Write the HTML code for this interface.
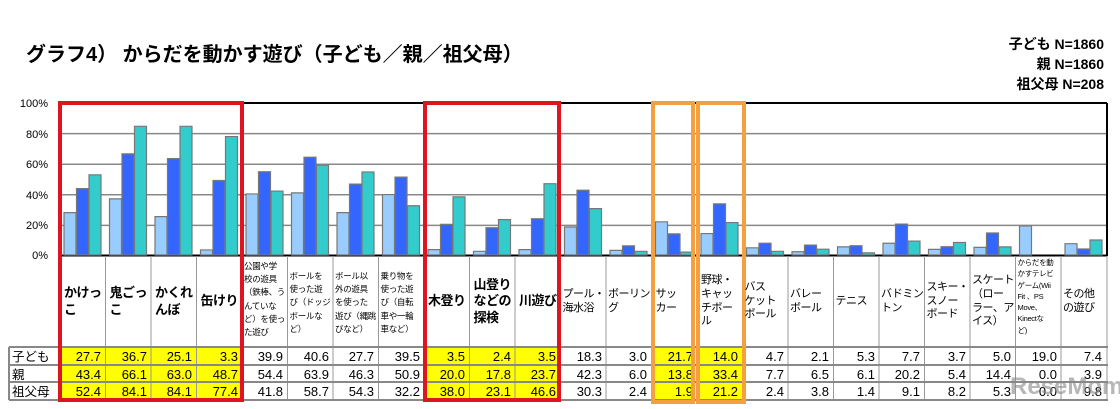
<!DOCTYPE html>
<html><head><meta charset="utf-8"><style>
body{margin:0;width:1120px;height:409px;background:#fff;overflow:hidden;position:relative;font-family:"Liberation Sans","Noto Sans CJK JP",sans-serif;}
.t{position:absolute;left:26px;top:38px;font-size:20px;font-weight:bold;color:#000;}
.lg{position:absolute;right:16px;top:34px;font-size:14px;font-weight:bold;text-align:right;line-height:20px;}
.c{position:absolute;top:256px;height:91px;width:45px;display:flex;align-items:center;padding-left:2px;box-sizing:border-box;line-height:1.25;color:#000;white-space:nowrap;overflow:visible;}
.b{font-size:13px;font-weight:bold;letter-spacing:-0.5px;}
.m{font-size:11px;letter-spacing:-0.5px;}
.s{font-size:8.5px;line-height:1.55;align-items:flex-start;padding-top:4px;letter-spacing:-0.3px;}
.xs{font-size:7.5px;line-height:1.5;align-items:flex-start;padding-top:1px;letter-spacing:-0.3px;}
</style></head><body>
<div class="t">グラフ4） からだを動かす遊び（子ども／親／祖父母）</div>
<div class="lg">子ども N=1860<br>親 N=1860<br>祖父母 N=208</div>
<svg width="1120" height="409" style="position:absolute;left:0;top:0">
<g font-size="11" fill="#000" text-anchor="end" font-family="Liberation Sans,sans-serif">
<text x="48" y="107">100%</text><text x="48" y="138">80%</text><text x="48" y="168">60%</text><text x="48" y="199">40%</text><text x="48" y="229">20%</text><text x="48" y="259">0%</text></g>
<g stroke="#888" stroke-width="1.5">
<line x1="60" y1="133.6" x2="1107" y2="133.6"/><line x1="60" y1="164.2" x2="1107" y2="164.2"/><line x1="60" y1="194.8" x2="1107" y2="194.8"/><line x1="60" y1="225.4" x2="1107" y2="225.4"/></g>
<line x1="60" y1="103" x2="1107" y2="103" stroke="#000" stroke-width="2"/>
<line x1="1107" y1="103" x2="1107" y2="256" stroke="#000" stroke-width="2"/>
<line x1="60" y1="255.5" x2="1107" y2="255.5" stroke="#000" stroke-width="2"/>
<g id="bars" stroke="#777" stroke-width="1.2">
<g transform="translate(60,255) scale(1,-1.53)"><rect x="4" width="12" height="27.7" fill="#99ccff" vector-effect="non-scaling-stroke"/><rect x="16.5" width="12" height="43.4" fill="#3366ff" vector-effect="non-scaling-stroke"/><rect x="29" width="12" height="52.4" fill="#33cccc" vector-effect="non-scaling-stroke"/></g>
<g transform="translate(105.5,255) scale(1,-1.53)"><rect x="4" width="12" height="36.7" fill="#99ccff" vector-effect="non-scaling-stroke"/><rect x="16.5" width="12" height="66.1" fill="#3366ff" vector-effect="non-scaling-stroke"/><rect x="29" width="12" height="84.1" fill="#33cccc" vector-effect="non-scaling-stroke"/></g>
<g transform="translate(151,255) scale(1,-1.53)"><rect x="4" width="12" height="25.1" fill="#99ccff" vector-effect="non-scaling-stroke"/><rect x="16.5" width="12" height="63.0" fill="#3366ff" vector-effect="non-scaling-stroke"/><rect x="29" width="12" height="84.1" fill="#33cccc" vector-effect="non-scaling-stroke"/></g>
<g transform="translate(196.5,255) scale(1,-1.53)"><rect x="4" width="12" height="3.3" fill="#99ccff" vector-effect="non-scaling-stroke"/><rect x="16.5" width="12" height="48.7" fill="#3366ff" vector-effect="non-scaling-stroke"/><rect x="29" width="12" height="77.4" fill="#33cccc" vector-effect="non-scaling-stroke"/></g>
<g transform="translate(242,255) scale(1,-1.53)"><rect x="4" width="12" height="39.9" fill="#99ccff" vector-effect="non-scaling-stroke"/><rect x="16.5" width="12" height="54.4" fill="#3366ff" vector-effect="non-scaling-stroke"/><rect x="29" width="12" height="41.8" fill="#33cccc" vector-effect="non-scaling-stroke"/></g>
<g transform="translate(287.5,255) scale(1,-1.53)"><rect x="4" width="12" height="40.6" fill="#99ccff" vector-effect="non-scaling-stroke"/><rect x="16.5" width="12" height="63.9" fill="#3366ff" vector-effect="non-scaling-stroke"/><rect x="29" width="12" height="58.7" fill="#33cccc" vector-effect="non-scaling-stroke"/></g>
<g transform="translate(333,255) scale(1,-1.53)"><rect x="4" width="12" height="27.7" fill="#99ccff" vector-effect="non-scaling-stroke"/><rect x="16.5" width="12" height="46.3" fill="#3366ff" vector-effect="non-scaling-stroke"/><rect x="29" width="12" height="54.3" fill="#33cccc" vector-effect="non-scaling-stroke"/></g>
<g transform="translate(378.5,255) scale(1,-1.53)"><rect x="4" width="12" height="39.5" fill="#99ccff" vector-effect="non-scaling-stroke"/><rect x="16.5" width="12" height="50.9" fill="#3366ff" vector-effect="non-scaling-stroke"/><rect x="29" width="12" height="32.2" fill="#33cccc" vector-effect="non-scaling-stroke"/></g>
<g transform="translate(424,255) scale(1,-1.53)"><rect x="4" width="12" height="3.5" fill="#99ccff" vector-effect="non-scaling-stroke"/><rect x="16.5" width="12" height="20.0" fill="#3366ff" vector-effect="non-scaling-stroke"/><rect x="29" width="12" height="38.0" fill="#33cccc" vector-effect="non-scaling-stroke"/></g>
<g transform="translate(469.5,255) scale(1,-1.53)"><rect x="4" width="12" height="2.4" fill="#99ccff" vector-effect="non-scaling-stroke"/><rect x="16.5" width="12" height="17.8" fill="#3366ff" vector-effect="non-scaling-stroke"/><rect x="29" width="12" height="23.1" fill="#33cccc" vector-effect="non-scaling-stroke"/></g>
<g transform="translate(515,255) scale(1,-1.53)"><rect x="4" width="12" height="3.5" fill="#99ccff" vector-effect="non-scaling-stroke"/><rect x="16.5" width="12" height="23.7" fill="#3366ff" vector-effect="non-scaling-stroke"/><rect x="29" width="12" height="46.6" fill="#33cccc" vector-effect="non-scaling-stroke"/></g>
<g transform="translate(560.5,255) scale(1,-1.53)"><rect x="4" width="12" height="18.3" fill="#99ccff" vector-effect="non-scaling-stroke"/><rect x="16.5" width="12" height="42.3" fill="#3366ff" vector-effect="non-scaling-stroke"/><rect x="29" width="12" height="30.3" fill="#33cccc" vector-effect="non-scaling-stroke"/></g>
<g transform="translate(606,255) scale(1,-1.53)"><rect x="4" width="12" height="3.0" fill="#99ccff" vector-effect="non-scaling-stroke"/><rect x="16.5" width="12" height="6.0" fill="#3366ff" vector-effect="non-scaling-stroke"/><rect x="29" width="12" height="2.4" fill="#33cccc" vector-effect="non-scaling-stroke"/></g>
<g transform="translate(651.5,255) scale(1,-1.53)"><rect x="4" width="12" height="21.7" fill="#99ccff" vector-effect="non-scaling-stroke"/><rect x="16.5" width="12" height="13.8" fill="#3366ff" vector-effect="non-scaling-stroke"/><rect x="29" width="12" height="1.9" fill="#33cccc" vector-effect="non-scaling-stroke"/></g>
<g transform="translate(697,255) scale(1,-1.53)"><rect x="4" width="12" height="14.0" fill="#99ccff" vector-effect="non-scaling-stroke"/><rect x="16.5" width="12" height="33.4" fill="#3366ff" vector-effect="non-scaling-stroke"/><rect x="29" width="12" height="21.2" fill="#33cccc" vector-effect="non-scaling-stroke"/></g>
<g transform="translate(742.5,255) scale(1,-1.53)"><rect x="4" width="12" height="4.7" fill="#99ccff" vector-effect="non-scaling-stroke"/><rect x="16.5" width="12" height="7.7" fill="#3366ff" vector-effect="non-scaling-stroke"/><rect x="29" width="12" height="2.4" fill="#33cccc" vector-effect="non-scaling-stroke"/></g>
<g transform="translate(788,255) scale(1,-1.53)"><rect x="4" width="12" height="2.1" fill="#99ccff" vector-effect="non-scaling-stroke"/><rect x="16.5" width="12" height="6.5" fill="#3366ff" vector-effect="non-scaling-stroke"/><rect x="29" width="12" height="3.8" fill="#33cccc" vector-effect="non-scaling-stroke"/></g>
<g transform="translate(833.5,255) scale(1,-1.53)"><rect x="4" width="12" height="5.3" fill="#99ccff" vector-effect="non-scaling-stroke"/><rect x="16.5" width="12" height="6.1" fill="#3366ff" vector-effect="non-scaling-stroke"/><rect x="29" width="12" height="1.4" fill="#33cccc" vector-effect="non-scaling-stroke"/></g>
<g transform="translate(879,255) scale(1,-1.53)"><rect x="4" width="12" height="7.7" fill="#99ccff" vector-effect="non-scaling-stroke"/><rect x="16.5" width="12" height="20.2" fill="#3366ff" vector-effect="non-scaling-stroke"/><rect x="29" width="12" height="9.1" fill="#33cccc" vector-effect="non-scaling-stroke"/></g>
<g transform="translate(924.5,255) scale(1,-1.53)"><rect x="4" width="12" height="3.7" fill="#99ccff" vector-effect="non-scaling-stroke"/><rect x="16.5" width="12" height="5.4" fill="#3366ff" vector-effect="non-scaling-stroke"/><rect x="29" width="12" height="8.2" fill="#33cccc" vector-effect="non-scaling-stroke"/></g>
<g transform="translate(970,255) scale(1,-1.53)"><rect x="4" width="12" height="5.0" fill="#99ccff" vector-effect="non-scaling-stroke"/><rect x="16.5" width="12" height="14.4" fill="#3366ff" vector-effect="non-scaling-stroke"/><rect x="29" width="12" height="5.3" fill="#33cccc" vector-effect="non-scaling-stroke"/></g>
<g transform="translate(1015.5,255) scale(1,-1.53)"><rect x="4" width="12" height="19.0" fill="#99ccff" vector-effect="non-scaling-stroke"/></g>
<g transform="translate(1061,255) scale(1,-1.53)"><rect x="4" width="12" height="7.4" fill="#99ccff" vector-effect="non-scaling-stroke"/><rect x="16.5" width="12" height="3.9" fill="#3366ff" vector-effect="non-scaling-stroke"/><rect x="29" width="12" height="9.8" fill="#33cccc" vector-effect="non-scaling-stroke"/></g>
</g>
<g fill="#ffff00">
<rect x="62" y="348" width="179" height="51"/>
<rect x="426" y="348" width="132" height="51"/>
<rect x="653" y="348" width="90" height="51"/>
</g>
<g stroke="#999" stroke-width="1">
<line x1="105.5" y1="256" x2="105.5" y2="400"/><line x1="151" y1="256" x2="151" y2="400"/><line x1="196.5" y1="256" x2="196.5" y2="400"/><line x1="242" y1="256" x2="242" y2="400"/><line x1="287.5" y1="256" x2="287.5" y2="400"/><line x1="333" y1="256" x2="333" y2="400"/><line x1="378.5" y1="256" x2="378.5" y2="400"/><line x1="424" y1="256" x2="424" y2="400"/><line x1="469.5" y1="256" x2="469.5" y2="400"/><line x1="515" y1="256" x2="515" y2="400"/><line x1="560.5" y1="256" x2="560.5" y2="400"/><line x1="606" y1="256" x2="606" y2="400"/><line x1="651.5" y1="256" x2="651.5" y2="400"/><line x1="697" y1="256" x2="697" y2="400"/><line x1="742.5" y1="256" x2="742.5" y2="400"/><line x1="788" y1="256" x2="788" y2="400"/><line x1="833.5" y1="256" x2="833.5" y2="400"/><line x1="879" y1="256" x2="879" y2="400"/><line x1="924.5" y1="256" x2="924.5" y2="400"/><line x1="970" y1="256" x2="970" y2="400"/><line x1="1015.5" y1="256" x2="1015.5" y2="400"/><line x1="1061" y1="256" x2="1061" y2="400"/><line x1="1107" y1="256" x2="1107" y2="400"/>
</g>
<g stroke="#888" stroke-width="2">
<line x1="9" y1="347" x2="1108" y2="347"/><line x1="9" y1="365" x2="1108" y2="365"/><line x1="9" y1="382" x2="1108" y2="382"/><line x1="9" y1="400" x2="1108" y2="400"/><line x1="9" y1="347" x2="9" y2="400"/></g>
<g font-size="12.5" font-family="Liberation Sans,Noto Sans CJK JP,sans-serif" fill="#000">
<text x="12" y="361">子ども</text><text x="12" y="379">親</text><text x="12" y="396">祖父母</text></g>
<g font-size="13" text-anchor="end" fill="#000" font-family="Liberation Sans,sans-serif">
<text y="361"><tspan x="101">27.7</tspan><tspan x="147">36.7</tspan><tspan x="192">25.1</tspan><tspan x="238">3.3</tspan><tspan x="283">39.9</tspan><tspan x="329">40.6</tspan><tspan x="374">27.7</tspan><tspan x="420">39.5</tspan><tspan x="465">3.5</tspan><tspan x="511">2.4</tspan><tspan x="556">3.5</tspan><tspan x="602">18.3</tspan><tspan x="647">3.0</tspan><tspan x="693">21.7</tspan><tspan x="738">14.0</tspan><tspan x="784">4.7</tspan><tspan x="829">2.1</tspan><tspan x="875">5.3</tspan><tspan x="920">7.7</tspan><tspan x="966">3.7</tspan><tspan x="1011">5.0</tspan><tspan x="1057">19.0</tspan><tspan x="1102">7.4</tspan></text>
<text y="379"><tspan x="101">43.4</tspan><tspan x="147">66.1</tspan><tspan x="192">63.0</tspan><tspan x="238">48.7</tspan><tspan x="283">54.4</tspan><tspan x="329">63.9</tspan><tspan x="374">46.3</tspan><tspan x="420">50.9</tspan><tspan x="465">20.0</tspan><tspan x="511">17.8</tspan><tspan x="556">23.7</tspan><tspan x="602">42.3</tspan><tspan x="647">6.0</tspan><tspan x="693">13.8</tspan><tspan x="738">33.4</tspan><tspan x="784">7.7</tspan><tspan x="829">6.5</tspan><tspan x="875">6.1</tspan><tspan x="920">20.2</tspan><tspan x="966">5.4</tspan><tspan x="1011">14.4</tspan><tspan x="1057">0.0</tspan><tspan x="1102">3.9</tspan></text>
<text y="396"><tspan x="101">52.4</tspan><tspan x="147">84.1</tspan><tspan x="192">84.1</tspan><tspan x="238">77.4</tspan><tspan x="283">41.8</tspan><tspan x="329">58.7</tspan><tspan x="374">54.3</tspan><tspan x="420">32.2</tspan><tspan x="465">38.0</tspan><tspan x="511">23.1</tspan><tspan x="556">46.6</tspan><tspan x="602">30.3</tspan><tspan x="647">2.4</tspan><tspan x="693">1.9</tspan><tspan x="738">21.2</tspan><tspan x="784">2.4</tspan><tspan x="829">3.8</tspan><tspan x="875">1.4</tspan><tspan x="920">9.1</tspan><tspan x="966">8.2</tspan><tspan x="1011">5.3</tspan><tspan x="1057">0.0</tspan><tspan x="1102">9.8</tspan></text>
</g>
<rect x="60" y="103" width="182" height="297" fill="none" stroke="#e0141e" stroke-width="4"/>
<rect x="425" y="103" width="134" height="297" fill="none" stroke="#e0141e" stroke-width="4"/>
<rect x="653" y="103" width="40" height="299" fill="none" stroke="#f5a040" stroke-width="4"/>
<rect x="698" y="103" width="46" height="299" fill="none" stroke="#f5a040" stroke-width="4"/>
<text x="1010" y="394" font-size="24" font-weight="bold" fill="#888" opacity="0.6" font-family="Liberation Sans,sans-serif">ReseMom</text>
</svg>
<div class="c b" style="left:62px">かけっ<br>こ</div>
<div class="c b" style="left:107.5px">鬼ごっ<br>こ</div>
<div class="c b" style="left:153px">かくれ<br>んぼ</div>
<div class="c b" style="left:198.5px">缶けり</div>
<div class="c s" style="left:242px">公園や学<br>校の遊具<br>（鉄棒、う<br>んていな<br>ど）を使っ<br>た遊び</div>
<div class="c s" style="left:287.5px;padding-top:14px">ボールを<br>使った遊<br>び（ドッジ<br>ボールな<br>ど）</div>
<div class="c s" style="left:333px;padding-top:14px">ボール以<br>外の遊具<br>を使った<br>遊び（縄跳<br>びなど）</div>
<div class="c s" style="left:378.5px;padding-top:14px">乗り物を<br>使った遊<br>び（自転<br>車や一輪<br>車など）</div>
<div class="c b" style="left:426px">木登り</div>
<div class="c b" style="left:471.5px">山登り<br>などの<br>探検</div>
<div class="c b" style="left:517px">川遊び</div>
<div class="c m" style="left:560.5px">プール・<br>海水浴</div>
<div class="c m" style="left:606px">ボーリン<br>グ</div>
<div class="c m" style="left:653.5px">サッ<br>カー</div>
<div class="c m" style="left:699px">野球・<br>キャッ<br>チボー<br>ル</div>
<div class="c m" style="left:742.5px">バス<br>ケット<br>ボール</div>
<div class="c m" style="left:788px">バレー<br>ボール</div>
<div class="c m" style="left:833.5px">テニス</div>
<div class="c m" style="left:879px">バドミン<br>トン</div>
<div class="c m" style="left:924.5px">スキー・<br>スノー<br>ボード</div>
<div class="c m" style="left:970px">スケート<br>（ロー<br>ラー、ア<br>イス）</div>
<div class="c xs" style="left:1015.5px">からだを動<br>かすテレビ<br>ゲーム(Wii<br>Fit 、PS<br>Move、<br>Kinectな<br>ど)</div>
<div class="c m" style="left:1061px">その他<br>の遊び</div>
</body></html>
